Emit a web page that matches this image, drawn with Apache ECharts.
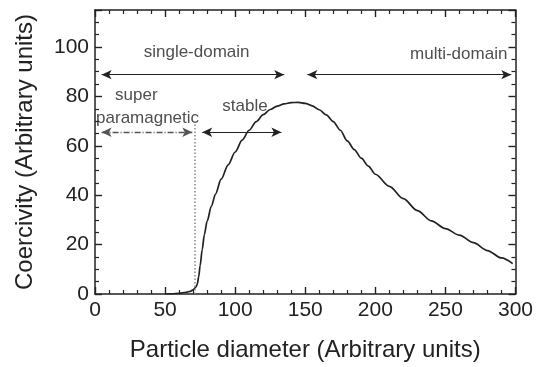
<!DOCTYPE html>
<html>
<head>
<meta charset="utf-8">
<script src="https://cdn.jsdelivr.net/npm/echarts@6/dist/echarts.min.js"></script>
<style>
  html, body { margin: 0; padding: 0; background: #fff; }
  #chart { width: 536px; height: 367px; }
</style>
</head>
<body>
<div id="chart"></div>
<script>
// coercivity vs particle diameter
const diameter = [50, 55, 60, 65, 68, 70, 72, 73, 74, 75, 76.5, 78, 80, 83, 86, 90, 95, 100, 105, 110, 115, 120, 125, 130, 135, 140, 145, 150, 155, 160, 165, 170, 175, 180, 185, 190, 195, 200, 210, 220, 230, 240, 250, 260, 270, 280, 290, 298]
const coercivity = [0, 0.1, 0.3, 0.7, 1.1, 1.7, 2.8, 4, 7, 11.5, 18, 24, 29.5, 35.5, 40.5, 46.5, 52.3, 57.5, 62.3, 66.3, 69.8, 72.6, 74.7, 76.1, 77, 77.5, 77.6, 77.2, 76.2, 74.6, 72.5, 69.8, 66.3, 62, 58.5, 55, 51.8, 48.5, 43.6, 38.6, 33.8, 29.6, 26.5, 23.8, 20.8, 17.6, 14.6, 12.3]

// superparamagnetic limit (dotted line)
const limitX = 71.5
const limitTop = 70

// double arrows: [x0, x1] and level
const arrowNames = ['single-domain', 'multi-domain', 'super paramagnetic', 'stable']
const arrowSpans = [[4.7, 135], [151.5, 297], [4.7, 69.4], [76.5, 133]]
const arrowLevels = [88.8, 88.8, 65.5, 65.5]

// annotation texts
const noteTexts = ['single-domain', 'multi-domain', 'super', 'paramagnetic', 'stable']
const noteX = [72.5, 259.5, 29.5, 37.5, 107]
const noteY = [98, 97.2, 80.3, 71, 76]

const xMax = 300
const yMax = 115

const chart = echarts.init(document.getElementById('chart'))
const ink = '#222'
const font = 'Liberation Sans, Arial, sans-serif'

const frameLine = () => ({ show: true, onZero: false, lineStyle: { color: ink, width: 1.5 } })
const majorTick = () => ({ show: true, inside: true, length: 7, lineStyle: { color: ink, width: 1.4 } })
const minorTick = n => ({ show: true, splitNumber: n, length: 4, lineStyle: { color: ink, width: 1.2 } })

const option = {
  animation: false,
  backgroundColor: '#fff',
  grid: { left: 95, top: 10, right: 15, bottom: 69 },
  xAxis: [
    {
      type: 'value', position: 'bottom', min: 0, max: xMax, interval: 50,
      name: 'Particle diameter (Arbitrary units)', nameLocation: 'middle', nameGap: 44,
      nameTextStyle: { color: ink, fontSize: 24, fontFamily: font },
      axisLine: frameLine(), axisTick: majorTick(), minorTick: minorTick(5),
      axisLabel: { color: ink, fontSize: 21, fontFamily: font, margin: 6 },
      splitLine: { show: false },
    },
    {
      type: 'value', position: 'top', min: 0, max: xMax, interval: 50,
      axisLine: frameLine(), axisTick: majorTick(), minorTick: minorTick(5),
      axisLabel: { show: false }, splitLine: { show: false },
    },
  ],
  yAxis: [
    {
      type: 'value', position: 'left', min: 0, max: yMax, interval: 20,
      name: 'Coercivity (Arbitrary units)', nameLocation: 'middle', nameGap: 58,
      nameTextStyle: { color: ink, fontSize: 24, fontFamily: font },
      axisLine: frameLine(), axisTick: majorTick(), minorTick: minorTick(4),
      axisLabel: { color: ink, fontSize: 21, fontFamily: font, margin: 6, showMaxLabel: false },
      splitLine: { show: false },
    },
    {
      type: 'value', position: 'right', min: 0, max: yMax, interval: 20,
      axisLine: frameLine(), axisTick: majorTick(), minorTick: minorTick(4),
      axisLabel: { show: false }, splitLine: { show: false },
    },
  ],
  series: [
    {
      type: 'line', xAxisIndex: 0, yAxisIndex: 0,
      data: diameter.map((d, i) => [d, coercivity[i]]),
      showSymbol: false, smooth: 0.3, smoothMonotone: 'x',
      lineStyle: { color: ink, width: 1.7 },
      markLine: {
        silent: true, symbol: ['arrow', 'arrow'], symbolSize: [7, 10],
        label: { show: false },
        data: arrowSpans.map((s, i) => [
          { coord: [s[0], arrowLevels[i]], name: arrowNames[i],
            lineStyle: i === 2 ? { color: '#555', type: [6, 2, 1, 2], width: 1.3 } : { color: ink, type: 'solid', width: 1.1 } },
          { coord: [s[1], arrowLevels[i]] },
        ]).concat([[
          { coord: [limitX, 0], symbol: 'none', lineStyle: { color: '#888', type: [1.5, 2], width: 1.5 } },
          { coord: [limitX, limitTop], symbol: 'none' },
        ]]),
      },
    },
    {
      type: 'scatter', xAxisIndex: 0, yAxisIndex: 0,
      symbolSize: 0, silent: true,
      data: noteTexts.map((t, i) => ({ value: [noteX[i], noteY[i]], name: t })),
      label: { show: true, position: 'inside', formatter: p => p.name,
        color: ink, fontSize: 17, fontFamily: font },
    },
  ],
}
chart.setOption(option)
</script>
</body>
</html>
